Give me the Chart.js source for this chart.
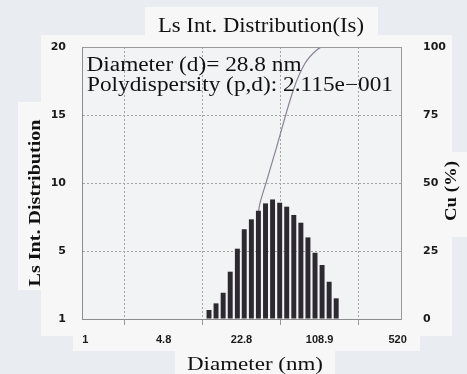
<!DOCTYPE html>
<html>
<head>
<meta charset="utf-8">
<title>Ls Int. Distribution</title>
<script src="https://cdn.jsdelivr.net/npm/chart.js@4.4.1/dist/chart.umd.min.js"></script>
<style>
    html, body { margin: 0; padding: 0; background: #e9ecf0; }
    #wrap { width: 467px; height: 374px; }
</style>
</head>
<body>
<div id="wrap"><canvas id="sizeChart" width="467" height="374"></canvas></div>
<script>
// size bins (nm) and intensity of each bin
const binDiameters = [11.9, 13.7, 15.8, 18.2, 21.0, 24.1, 27.8, 32.0, 36.9, 42.5, 49.0, 56.4, 65.0, 74.9, 86.3, 99.4, 114.5, 131.9, 151.9];
const binIntensity = [0.66, 1.15, 1.93, 3.48, 5.17, 6.6, 7.33, 7.96, 8.5, 8.79, 8.55, 8.26, 7.65, 7.08, 6.0, 4.87, 3.97, 2.74, 1.52];

// cumulative curve (%), the lower part is hidden behind the bars
const cumDiameters = [31.5, 33.0, 37.8, 46.2, 64.4, 81.4, 102.9, 129.7];
const cumPercent = [37, 42.5, 50.9, 63.4, 84.2, 94.0, 98.9, 101.4];

// axis ticks
const xTicks = [1, 4.8, 22.8, 108.9, 520];
const xTickLabels = ['1', '4.8', '22.8', '108.9', '520'];
const leftTicks = [0, 5, 10, 15, 20];
const leftTickLabels = ['1', '5', '10', '15', '20'];
const rightTicks = [0, 25, 50, 75, 100];
const rightTickLabels = ['0', '25', '50', '75', '100'];

// texts
const chartTitle = 'Ls Int. Distribution(Is)';
const leftTitle = 'Ls Int. Distribution';
const rightTitle = 'Cu (%)';
const xTitle = 'Diameter (nm)';
const infoLines = ['Diameter (d)= 28.8 nm', 'Polydispersity (p,d): 2.115e\u2212001'];

const SERIF = '"Liberation Serif", "DejaVu Serif", serif';
const tickFont = { family: '"DejaVu Sans"', size: 11, weight: 'bold' };

// draw text squeezed/stretched to a given width
function fitText(ctx, text, x, y, width, font, rotate) {
    ctx.save();
    ctx.font = font;
    const w = ctx.measureText(text).width;
    ctx.translate(x, y);
    if (rotate) ctx.rotate(-Math.PI / 2);
    ctx.scale(width / w, 1);
    ctx.textAlign = 'center';
    ctx.textBaseline = 'middle';
    ctx.fillStyle = '#111';
    ctx.fillText(text, 0, 0);
    ctx.restore();
}

// panels behind the labels, plot frame and all the free texts
const paperPlugin = {
    id: 'paper',
    beforeDraw(chart) {
        const ctx = chart.ctx;
        const a = chart.chartArea;
        ctx.save();
        ctx.fillStyle = '#e9ecf0';
        ctx.fillRect(0, 0, chart.width, chart.height);
        ctx.fillStyle = '#f7f7f7';
        ctx.fillRect(41, 35, 411, 301);   // main panel
        ctx.fillRect(145, 7, 233, 36);    // title box
        ctx.fillRect(18, 102, 24, 188);   // left title box
        ctx.fillRect(440, 152, 27, 85);   // right title box
        ctx.fillRect(73, 327, 347, 24);   // x labels box
        ctx.fillRect(175, 350, 160, 24);  // x title box
        ctx.fillStyle = '#f2f3f5';
        ctx.fillRect(a.left, a.top, a.right - a.left, a.bottom - a.top);
        ctx.restore();
    },
    afterDraw(chart) {
        const ctx = chart.ctx;
        const a = chart.chartArea;
        ctx.save();
        ctx.strokeStyle = '#9a9a9a';
        ctx.lineWidth = 1;
        ctx.beginPath();
        ctx.moveTo(a.left, a.top + 0.5);
        ctx.lineTo(a.right, a.top + 0.5);
        ctx.stroke();
        ctx.restore();

        fitText(ctx, chartTitle, 261, 27, 206, '20px ' + SERIF);
        fitText(ctx, infoLines[0], 87 + 107, 66, 215, '20px ' + SERIF);
        fitText(ctx, infoLines[1], 87 + 153, 86, 306, '20px ' + SERIF);
        fitText(ctx, leftTitle, 36, 203, 167, 'bold 17px ' + SERIF, true);
        fitText(ctx, rightTitle, 452, 191, 60, 'bold 17px ' + SERIF, true);
        fitText(ctx, xTitle, 255, 365, 136, '19px ' + SERIF);
    }
};

const ctx = document.getElementById('sizeChart').getContext('2d');
new Chart(ctx, {
    type: 'bar',
    data: {
        datasets: [{
            type: 'bar',
            label: 'Intensity',
            data: binDiameters.map((d, i) => ({ x: d, y: binIntensity[i] })),
            yAxisID: 'y',
            backgroundColor: '#2d2930',
            barPercentage: 0.72,
            categoryPercentage: 1
        }, {
            type: 'line',
            label: 'Cumulative',
            data: cumDiameters.map((d, i) => ({ x: d, y: cumPercent[i] })),
            yAxisID: 'y2',
            borderColor: '#8b8294',
            borderWidth: 1.2,
            pointRadius: 0,
            tension: 0.3,
            fill: false
        }]
    },
    options: {
        responsive: false,
        animation: false,
        layout: { padding: { top: 47, left: 0, right: 0, bottom: 0 } },
        plugins: {
            legend: { display: false },
            tooltip: { enabled: false }
        },
        scales: {
            x: {
                type: 'logarithmic',
                position: 'bottom',
                min: 0.936,
                max: 556,
                afterBuildTicks: s => { s.ticks = xTicks.map(v => ({ value: v })); },
                afterFit: s => { s.height = 55; },
                ticks: {
                    callback: (v, i) => xTickLabels[i],
                    font: { family: '"Liberation Sans"', size: 11, weight: 'bold' },
                    color: '#1a1a1a',
                    padding: 8,
                    autoSkip: false,
                    maxRotation: 0
                },
                grid: { color: '#a5a5a5', tickLength: 6, tickColor: '#999', tickBorderDash: [] },
                border: { display: true, color: '#8c8c8c', dash: [2, 2] }
            },
            y: {
                position: 'left',
                min: 0,
                max: 20,
                afterBuildTicks: s => { s.ticks = leftTicks.map(v => ({ value: v })); },
                afterFit: s => { s.width = 82; },
                ticks: {
                    callback: (v, i) => leftTickLabels[i],
                    font: tickFont,
                    color: '#1a1a1a',
                    padding: 16
                },
                grid: { color: '#a5a5a5', drawTicks: false },
                border: { display: true, color: '#8c8c8c', dash: [2, 2] }
            },
            y2: {
                position: 'right',
                min: 0,
                max: 100,
                afterBuildTicks: s => { s.ticks = rightTicks.map(v => ({ value: v })); },
                afterFit: s => { s.width = 66; },
                ticks: {
                    callback: (v, i) => rightTickLabels[i],
                    font: tickFont,
                    color: '#1a1a1a',
                    padding: 14
                },
                grid: { display: false },
                border: { display: true, color: '#9a9a9a' }
            }
        }
    },
    plugins: [paperPlugin]
});
</script>
</body>
</html>
